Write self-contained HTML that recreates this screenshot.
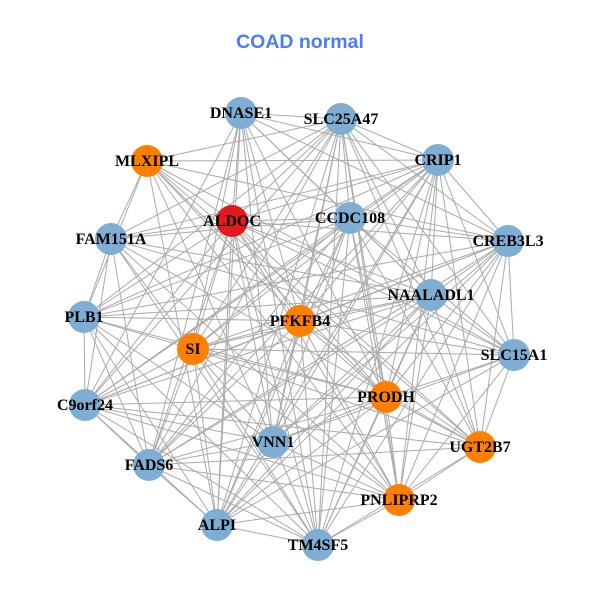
<!DOCTYPE html>
<html><head><meta charset="utf-8"><style>
html,body{margin:0;padding:0;background:#fff;}
svg{display:block;}
</style></head><body>
<svg id="g" width="600" height="600" xmlns="http://www.w3.org/2000/svg">
<rect width="600" height="600" fill="#fff"/>
<g id="edges" stroke="#aaaaaa" stroke-width="1"></g>
<g id="nodes"></g>
<g id="labels" font-family="'Liberation Serif',serif" font-weight="bold" font-size="16" fill="#000" text-anchor="middle"></g>
<text x="300" y="48" font-family="'Liberation Sans',sans-serif" font-weight="bold" font-size="19.5" fill="#4d7ef0" text-anchor="middle">COAD normal</text>
</svg>
<script>
var N=[
["DNASE1",241,113,"b"],["SLC25A47",341,119,"b"],["CRIP1",438,160,"b"],["MLXIPL",147,161,"o"],
["ALDOC",232,221,"r"],["CCDC108",350,218,"b"],["FAM151A",111,239,"b"],["CREB3L3",508,241,"b"],
["NAALADL1",431,295,"b"],["PLB1",84,317,"b"],["PFKFB4",300,321,"o"],["SI",193,349,"o"],
["SLC15A1",514,355,"b"],["PRODH",386,397,"o"],["C9orf24",85,405,"b"],["UGT2B7",480,447,"o"],
["VNN1",273,442,"b"],["FADS6",149,465,"b"],["PNLIPRP2",399,500,"o"],["ALPI",217,525,"b"],["TM4SF5",318,545,"b"]];
var col={b:"#7eaed4",o:"#ff7f00",r:"#e31a1c"};
var ns="http://www.w3.org/2000/svg";
var E=document.getElementById("edges"),Nd=document.getElementById("nodes"),L=document.getElementById("labels");
for(var i=0;i<N.length;i++)for(var j=i+1;j<N.length;j++){
 if((i*7+j*3)%9==0)continue;
 var l=document.createElementNS(ns,"line");
 l.setAttribute("x1",N[i][1]);l.setAttribute("y1",N[i][2]);l.setAttribute("x2",N[j][1]);l.setAttribute("y2",N[j][2]);
 E.appendChild(l);}
N.forEach(function(n){
 var c=document.createElementNS(ns,"circle");
 c.setAttribute("cx",n[1]);c.setAttribute("cy",n[2]);c.setAttribute("r",16);c.setAttribute("fill",col[n[3]]);
 Nd.appendChild(c);
 var t=document.createElementNS(ns,"text");
 t.setAttribute("x",n[1]);t.setAttribute("y",n[2]+5);t.textContent=n[0];
 L.appendChild(t);});
</script>
</body></html>
